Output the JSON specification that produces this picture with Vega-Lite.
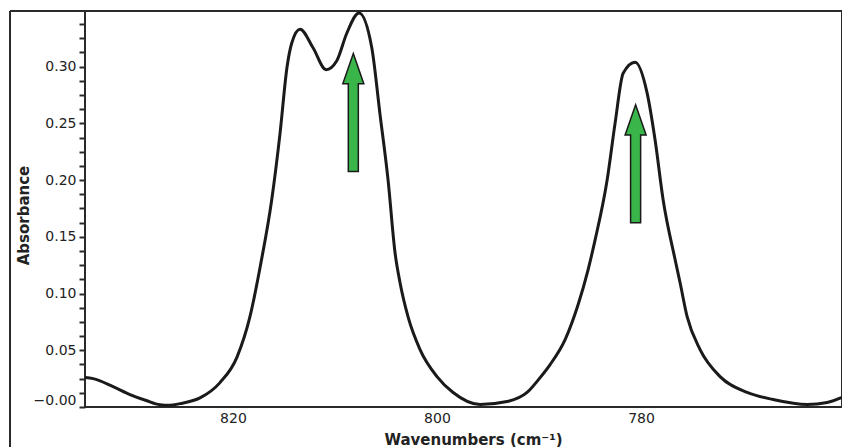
{
  "$schema": "https://vega.github.io/schema/vega-lite/v6.json",
  "width": 757,
  "height": 396,
  "autosize": {"type": "none"},
  "padding": {"left": 85, "top": 11, "right": 0, "bottom": 40},
  "background": "white",
  "config": {
    "view": {"stroke": "#2a2a2a", "strokeWidth": 2},
    "font": "DejaVu Sans",
    "axis": {
      "grid": false,
      "domain": false,
      "labelFont": "DejaVu Sans",
      "labelFontSize": 14,
      "labelColor": "#222",
      "titleFont": "DejaVu Sans",
      "titleFontSize": 15,
      "titleFontWeight": "bold",
      "titleColor": "#222"
    },
    "axisY": {
      "ticks": true,
      "tickSize": 6,
      "tickWidth": 2,
      "tickColor": "#2a2a2a",
      "tickOpacity": 1
    },
    "axisX": {
      "ticks": false
    }
  },
  "datasets": {
    "spectrum": [
      {"wn": 834.5, "A": 0.026},
      {"wn": 833.7, "A": 0.025},
      {"wn": 831.75, "A": 0.018},
      {"wn": 830.09, "A": 0.011},
      {"wn": 828.5, "A": 0.0057},
      {"wn": 827.15, "A": 0.002},
      {"wn": 826.2, "A": 0.0015},
      {"wn": 825.19, "A": 0.003},
      {"wn": 823.23, "A": 0.008},
      {"wn": 821.27, "A": 0.0215},
      {"wn": 819.6, "A": 0.044},
      {"wn": 818.32, "A": 0.08},
      {"wn": 817.3, "A": 0.125},
      {"wn": 816.2, "A": 0.1825},
      {"wn": 815.38, "A": 0.2414},
      {"wn": 814.7, "A": 0.2995},
      {"wn": 814.24, "A": 0.3206},
      {"wn": 813.42, "A": 0.3329},
      {"wn": 812.15, "A": 0.3166},
      {"wn": 810.87, "A": 0.2973},
      {"wn": 809.82, "A": 0.3052},
      {"wn": 808.84, "A": 0.3294},
      {"wn": 807.64, "A": 0.3472},
      {"wn": 806.39, "A": 0.3166},
      {"wn": 805.58, "A": 0.2577},
      {"wn": 804.79, "A": 0.1997},
      {"wn": 804.11, "A": 0.1359},
      {"wn": 803.62, "A": 0.1095},
      {"wn": 802.84, "A": 0.0796},
      {"wn": 801.66, "A": 0.0506},
      {"wn": 800.0, "A": 0.0268},
      {"wn": 798.42, "A": 0.0128},
      {"wn": 795.77, "A": 0.0022},
      {"wn": 793.13, "A": 0.0048},
      {"wn": 791.17, "A": 0.0128},
      {"wn": 789.89, "A": 0.0259},
      {"wn": 788.91, "A": 0.0374},
      {"wn": 787.44, "A": 0.0594},
      {"wn": 786.17, "A": 0.0901},
      {"wn": 785.19, "A": 0.1209},
      {"wn": 784.5, "A": 0.1473},
      {"wn": 783.32, "A": 0.2001},
      {"wn": 782.54, "A": 0.2502},
      {"wn": 781.75, "A": 0.2942},
      {"wn": 780.58, "A": 0.3039},
      {"wn": 779.4, "A": 0.2766},
      {"wn": 778.62, "A": 0.2353},
      {"wn": 777.83, "A": 0.1825},
      {"wn": 776.66, "A": 0.13},
      {"wn": 776.17, "A": 0.1095},
      {"wn": 775.48, "A": 0.0796},
      {"wn": 774.21, "A": 0.0506},
      {"wn": 772.25, "A": 0.0268},
      {"wn": 769.6, "A": 0.0128},
      {"wn": 767.05, "A": 0.0066},
      {"wn": 763.72, "A": 0.0022},
      {"wn": 761.75, "A": 0.004},
      {"wn": 760.3, "A": 0.0084}
    ],
    "arrows": [
      {"wn": 808.2, "A": 0.2595},
      {"wn": 780.53, "A": 0.2143}
    ]
  },
  "layer": [
    {
      "data": {"name": "spectrum"},
      "mark": {"type": "line", "color": "#1a1a1a", "strokeWidth": 3, "interpolate": "monotone", "clip": true},
      "encoding": {
        "x": {
          "field": "wn", "type": "quantitative",
          "scale": {"domain": [760.3, 834.5], "reverse": true, "nice": false, "zero": false},
          "axis": {
            "title": "Wavenumbers (cm⁻¹)",
            "values": [780, 800, 820],
            "format": "d",
            "labelPadding": 4,
            "labelFlush": false,
            "titleX": 388,
            "titleY": 32,
            "titleAlign": "center",
            "titleBaseline": "middle"
          }
        },
        "y": {
          "field": "A", "type": "quantitative",
          "scale": {"domain": [0, 0.349], "nice": false, "zero": false},
          "axis": {
            "title": "Absorbance",
            "tickCount": 60,
            "values": [0, 0.0125, 0.025, 0.0375, 0.05, 0.0625, 0.075, 0.0875, 0.1, 0.1125, 0.125, 0.1375, 0.15, 0.1625, 0.175, 0.1875, 0.2, 0.2125, 0.225, 0.2375, 0.25, 0.2625, 0.275, 0.2875, 0.3, 0.3125, 0.325, 0.3375],
            "labelExpr": "abs(datum.value*20 - round(datum.value*20)) < 0.01 ? (datum.value < 0.001 ? '−0.00' : format(datum.value, '.2f')) : ''",
            "labelPadding": 3,
            "labelFlush": true,
            "labelOverlap": false,
            "titleAngle": -90,
            "titleX": -62,
            "titleY": 204,
            "titleAlign": "center",
            "titleBaseline": "middle"
          }
        }
      }
    },
    {
      "data": {"name": "arrows"},
      "mark": {
        "type": "point",
        "shape": "M0,-1 L0.178,-0.49 L0.085,-0.49 L0.085,1 L-0.085,1 L-0.085,-0.49 L-0.178,-0.49 Z",
        "size": 13924,
        "filled": true,
        "fill": "#39b54a",
        "stroke": "#1a1a1a",
        "strokeWidth": 1.5,
        "opacity": 1
      },
      "encoding": {
        "x": {"field": "wn", "type": "quantitative"},
        "y": {"field": "A", "type": "quantitative"}
      }
    },
    {
      "data": {"values": [{"fx": 841.85, "fy": 0.349, "fy2": -0.06}]},
      "mark": {"type": "rule", "color": "#2a2a2a", "strokeWidth": 2, "clip": false},
      "encoding": {
        "x": {"field": "fx", "type": "quantitative"},
        "y": {"field": "fy", "type": "quantitative"},
        "y2": {"field": "fy2"}
      }
    },
    {
      "data": {"values": [{"fx": 841.85, "fx2": 834.5, "fy": 0.349}]},
      "mark": {"type": "rule", "color": "#2a2a2a", "strokeWidth": 2, "clip": false},
      "encoding": {
        "x": {"field": "fx", "type": "quantitative"},
        "x2": {"field": "fx2"},
        "y": {"field": "fy", "type": "quantitative"}
      }
    }
  ]
}
